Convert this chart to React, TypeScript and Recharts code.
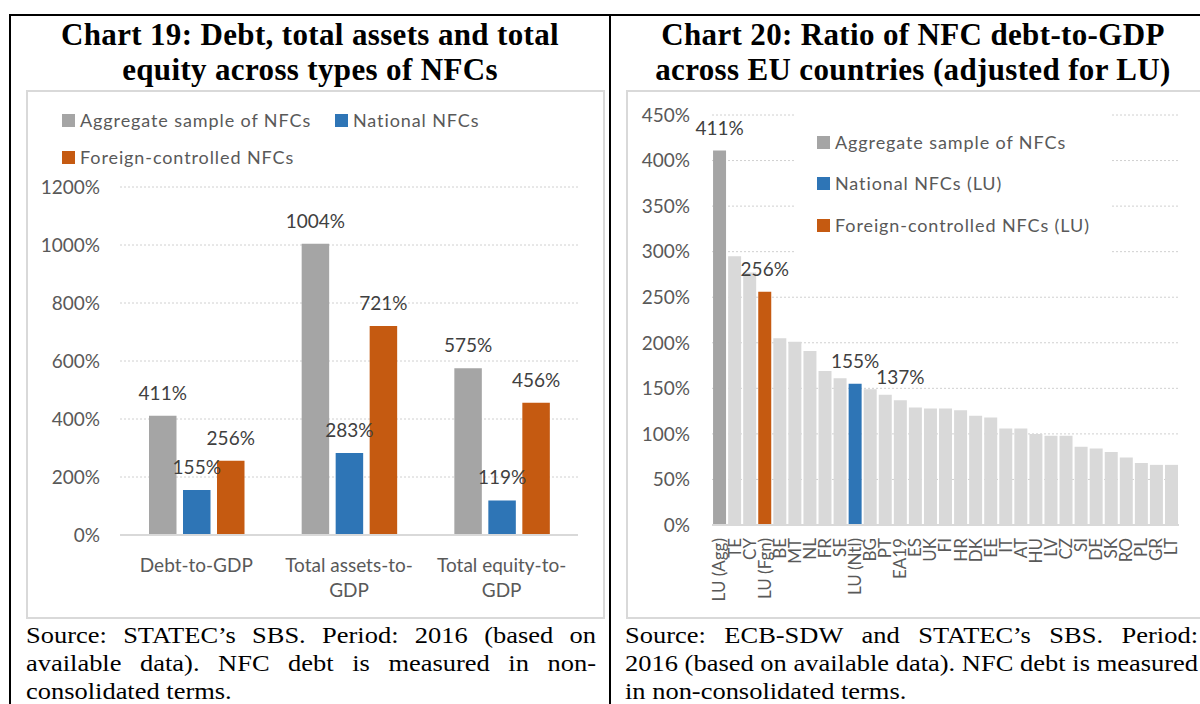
import React from "react";
import { BarChart, Bar, XAxis, YAxis, CartesianGrid, LabelList, Cell } from "recharts";

// Chart 19
const CATS_19 = ["Debt-to-GDP", "Total assets-to-GDP", "Total equity-to-GDP"];
const AGG_19 = [411, 1004, 575];
const NAT_19 = [155, 283, 119];
const FGN_19 = [256, 721, 456];
const TICKS_19 = [0, 200, 400, 600, 800, 1000, 1200];

// Chart 20
const COUNTRIES_20 = [
  "LU (Agg)", "TE", "CY", "LU (Fgn)", "BE", "MT", "NL", "FR", "SE", "LU (Ntl)",
  "BG", "PT", "EA19", "ES", "UK", "FI", "HR", "DK", "EE", "IT", "AT", "HU",
  "LV", "CZ", "SI", "DE", "SK", "RO", "PL", "GR", "LT",
];
const DEBT_20 = [
  411, 295, 277, 256, 205, 201, 191, 169, 161, 155,
  149, 143, 137, 129, 128, 128, 126, 120, 118, 106, 106, 100,
  98, 98, 86, 84, 80, 74, 68, 66, 66,
];
const LABELLED_20 = ["LU (Agg)", "LU (Fgn)", "LU (Ntl)", "EA19"];
const TICKS_20 = [0, 50, 100, 150, 200, 250, 300, 350, 400, 450];

const GREY = "#A5A5A5";
const BLUE = "#2E75B6";
const ORANGE = "#C55A11";
const LIGHT = "#D9D9D9";
const AXIS_TEXT = "#595959";
const VALUE_TEXT = "#404040";
const GRID = "#d0d0d0";
const FONT = "Lato, 'Open Sans', sans-serif";
const SERIF = "'Liberation Serif', 'Times New Roman', serif";

const chart19Data = CATS_19.map((cat, i) => ({
  cat,
  agg: AGG_19[i],
  nat: NAT_19[i],
  fgn: FGN_19[i],
}));

const chart20Data = COUNTRIES_20.map((country, i) => ({
  country,
  debt: DEBT_20[i],
  label: LABELLED_20.includes(country) ? `${DEBT_20[i]}%` : "",
}));

function color20(country: string) {
  if (country === "LU (Agg)") return GREY;
  if (country === "LU (Fgn)") return ORANGE;
  if (country === "LU (Ntl)") return BLUE;
  return LIGHT;
}

const pct = (v: any) => `${v}%`;

function CatTick({ x, y, payload }: any) {
  const s: string = payload.value;
  const cut = s.lastIndexOf("-");
  const lines = s.length > 12 ? [s.slice(0, cut + 1), s.slice(cut + 1)] : [s];
  return (
    <text x={x} y={y} textAnchor="middle" fill={AXIS_TEXT} fontSize={19} fontFamily={FONT}>
      {lines.map((l, i) => (
        <tspan key={i} x={x} dy={i === 0 ? 37 : 25}>
          {l}
        </tspan>
      ))}
    </text>
  );
}

function CountryTick({ x, y, payload }: any) {
  const ty = y + 13;
  return (
    <text
      x={x}
      y={ty}
      dy="0.35em"
      textAnchor="end"
      transform={`rotate(-90, ${x}, ${ty})`}
      fill={AXIS_TEXT}
      fontSize={17}
      fontFamily={FONT}
    >
      {payload.value}
    </text>
  );
}

function LegendItem({ left, top, color, text }: { left: number; top: number; color: string; text: string }) {
  return (
    <div
      style={{
        position: "absolute",
        left,
        top: top - 11,
        height: 22,
        display: "flex",
        alignItems: "center",
        whiteSpace: "nowrap",
        fontSize: 18,
        letterSpacing: 0.9,
        color: AXIS_TEXT,
      }}
    >
      <span style={{ width: 13, height: 13, background: color, marginRight: 5, display: "inline-block" }} />
      {text}
    </div>
  );
}

// the scanned page is a little stretched sideways, so the serif text is widened
const STRETCH = 1.15;

function SourceText({ left, width, lines }: { left: number; width: number; lines: string[] }) {
  return (
    <div
      style={{
        position: "absolute",
        left,
        top: 622,
        width: width / STRETCH,
        transform: `scaleX(${STRETCH})`,
        transformOrigin: "0 0",
        fontFamily: SERIF,
        fontSize: 23,
        lineHeight: "28px",
        color: "#000",
      }}
    >
      {lines.map((l, i) => (
        <div key={i} style={{ textAlign: "justify", textAlignLast: i < lines.length - 1 ? "justify" : "left", whiteSpace: "nowrap" }}>
          {l}
        </div>
      ))}
    </div>
  );
}

const titleStyle: React.CSSProperties = {
  position: "absolute",
  top: 17,
  textAlign: "center",
  fontFamily: SERIF,
  fontWeight: "bold",
  fontSize: 31,
  letterSpacing: 0.35,
  lineHeight: "35px",
  whiteSpace: "nowrap",
  color: "#000",
};

const frameStyle: React.CSSProperties = {
  position: "absolute",
  top: 90,
  height: 529,
  border: "2px solid #d9d9d9",
  boxSizing: "border-box",
  background: "#fff",
};

export default function App() {
  return (
    <div
      style={{
        position: "fixed",
        left: 0,
        top: 0,
        width: 1200,
        height: 704,
        overflow: "hidden",
        background: "#fff",
        fontFamily: FONT,
      }}
    >
      {/* page table borders */}
      <div style={{ position: "absolute", left: 9, top: 14, width: 1400, height: 900, border: "2px solid #000", boxSizing: "border-box" }} />
      <div style={{ position: "absolute", left: 609, top: 14, width: 2, height: 900, background: "#000" }} />

      <div style={{ ...titleStyle, left: 11, width: 598 }}>
        <div>Chart 19: Debt, total assets and total</div>
        <div>equity across types of NFCs</div>
      </div>
      <div style={{ ...titleStyle, left: 611, width: 604 }}>
        <div>Chart 20: Ratio of NFC debt-to-GDP</div>
        <div>across EU countries (adjusted for LU)</div>
      </div>

      <div style={{ ...frameStyle, left: 26, width: 579 }} />
      <div style={{ ...frameStyle, left: 626, width: 600 }} />

      {/* Chart 19 */}
      <div style={{ position: "absolute", left: 26, top: 90 }}>
        <BarChart
          width={579}
          height={529}
          data={chart19Data}
          margin={{ top: 97, right: 27, bottom: 0, left: 0 }}
          barSize={27.5}
          barGap={6.5}
        >
          <CartesianGrid vertical={false} stroke={GRID} strokeDasharray="2 2" />
          <XAxis
            dataKey="cat"
            height={84}
            tickLine={false}
            tickSize={0}
            tickMargin={0}
            axisLine={{ stroke: LIGHT, strokeWidth: 2 }}
            tick={<CatTick />}
          />
          <YAxis
            width={94}
            domain={[0, 1200]}
            ticks={TICKS_19}
            tickFormatter={pct}
            axisLine={false}
            tickLine={false}
            tickSize={0}
            tickMargin={20}
            tick={{ fill: AXIS_TEXT, fontSize: 19, fontFamily: FONT }}
          />
          <Bar dataKey="agg" fill={GREY} isAnimationActive={false}>
            <LabelList dataKey="agg" position="top" offset={16} formatter={pct} fill={VALUE_TEXT} fontSize={19} fontFamily={FONT} />
          </Bar>
          <Bar dataKey="nat" fill={BLUE} isAnimationActive={false}>
            <LabelList dataKey="nat" position="top" offset={16} formatter={pct} fill={VALUE_TEXT} fontSize={19} fontFamily={FONT} />
          </Bar>
          <Bar dataKey="fgn" fill={ORANGE} isAnimationActive={false}>
            <LabelList dataKey="fgn" position="top" offset={16} formatter={pct} fill={VALUE_TEXT} fontSize={19} fontFamily={FONT} />
          </Bar>
        </BarChart>
      </div>
      <LegendItem left={62} top={120} color={GREY} text="Aggregate sample of NFCs" />
      <LegendItem left={335} top={120} color={BLUE} text="National NFCs" />
      <LegendItem left={62} top={157} color={ORANGE} text="Foreign-controlled NFCs" />

      {/* Chart 20 */}
      <div style={{ position: "absolute", left: 626, top: 90 }}>
        <BarChart
          width={574}
          height={529}
          data={chart20Data}
          margin={{ top: 25, right: 21, bottom: 0, left: 0 }}
          barCategoryGap="7%"
        >
          <CartesianGrid vertical={false} stroke={GRID} strokeDasharray="2 2" />
          <XAxis
            dataKey="country"
            height={94}
            interval={0}
            tickLine={false}
            tickSize={0}
            tickMargin={0}
            axisLine={{ stroke: LIGHT, strokeWidth: 2 }}
            tick={<CountryTick />}
          />
          <YAxis
            width={86}
            domain={[0, 450]}
            ticks={TICKS_20}
            tickFormatter={pct}
            axisLine={false}
            tickLine={false}
            tickSize={0}
            tickMargin={22}
            tick={{ fill: AXIS_TEXT, fontSize: 19, fontFamily: FONT }}
          />
          <Bar dataKey="debt" isAnimationActive={false}>
            {chart20Data.map((d) => (
              <Cell key={d.country} fill={color20(d.country)} />
            ))}
            <LabelList dataKey="label" position="top" offset={16} fill={VALUE_TEXT} fontSize={19} fontFamily={FONT} />
          </Bar>
        </BarChart>
      </div>
      <div style={{ position: "absolute", left: 795, top: 112, width: 315, height: 146, background: "#fff" }} />
      <LegendItem left={817} top={142} color={GREY} text="Aggregate sample of NFCs" />
      <LegendItem left={817} top={183} color={BLUE} text="National NFCs (LU)" />
      <LegendItem left={817} top={225} color={ORANGE} text="Foreign-controlled NFCs (LU)" />

      <SourceText
        left={26}
        width={570}
        lines={[
          "Source: STATEC’s SBS. Period: 2016 (based on",
          "available data). NFC debt is measured in non-",
          "consolidated terms.",
        ]}
      />
      <SourceText
        left={625}
        width={573}
        lines={[
          "Source: ECB-SDW and STATEC’s SBS. Period:",
          "2016 (based on available data). NFC debt is measured",
          "in non-consolidated terms.",
        ]}
      />
    </div>
  );
}
